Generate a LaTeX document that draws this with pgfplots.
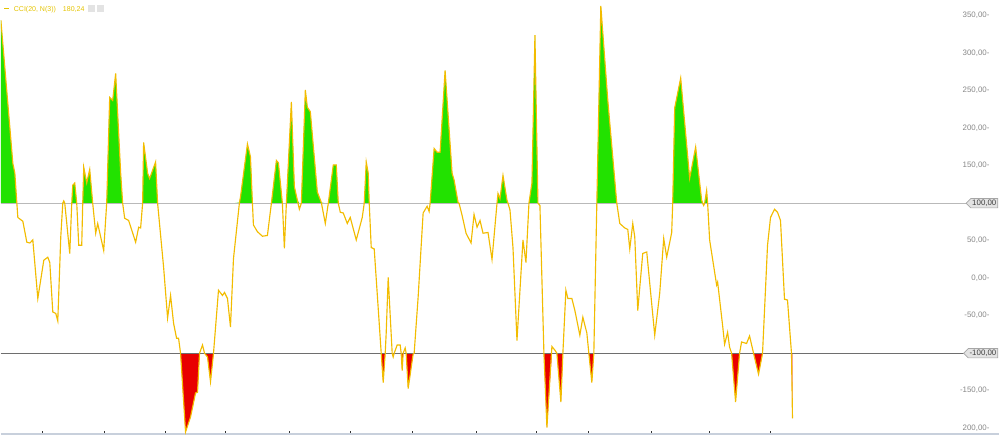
\documentclass[border=0pt]{standalone}
\usepackage{fontspec}
\setmainfont{Liberation Sans}
\usepackage{pgfplots}
\usepackage{pgfplotstable}
\pgfplotsset{compat=1.18}
\usetikzlibrary{shapes.symbols}
\definecolor{cciline}{RGB}{242,188,0}
\definecolor{ccigreen}{RGB}{34,226,0}
\definecolor{ccired}{RGB}{232,0,0}
\definecolor{axgray}{RGB}{135,135,135}
\definecolor{lightref}{RGB}{185,185,185}
\definecolor{darkref}{RGB}{110,110,110}
\definecolor{bottomline}{RGB}{200,208,220}

\pgfplotstableread{
x y
0 344
12 153
14 140
16 100
17 81
22 76
26 48
29 47
32 51
37 -27
43 24
47 28
49 21
52 -45
55 -47
57 -57
60 55
62 100
63 103
64 100
69 33
71 100
72 124
74 127
76 100
78 44
81 44
82 100
83 148
86 127
89 145
92 100
95 60
97 73
103 37
106 100
109 241
112 237
115 273
120 140
122 100
124 80
128 77
135 48
138 68
140 67
142 100
143 181
147 140
149 133
155 155
157 100
163 15
167 -53
170 -23
173 -60
176 -80
178 -80
180 -100
185 -205
190 -185
195 -153
197 -152
199 -100
202 -89
204 -100
207 -105
210 -138
213 -100
218 -16
222 -23
224 -19
227 -27
230 -65
233 26
239 101
240 108
247 179
250 162
252 100
253 71
257 62
262 56
267 57
271 100
276 157
278 154
282 100
284 40
286 100
291 235
294 122
297 104
299 92
301 100
305 251
307 228
310 222
317 115
321 101
325 73
328 100
333 151
336 151
338 100
340 88
343 87
347 73
350 81
356 51
362 81
364 100
366 155
368 140
369 100
371 41
374 39
379 -60
381 -100
383 -139
385 -100
386 -73
388 1
392 -100
393 -105
394 -100
397 -89
400 -89
401 -100
402 -123
403 -100
405 -93
406 -100
408 -147
413 -101
414 -100
418 -25
423 87
427 96
429 89
430 100
434 173
437 168
440 168
445 277
452 140
454 131
458 101
459 100
462 84
466 60
471 47
474 85
477 68
480 77
483 60
488 61
492 25
497 100
498 113
500 106
503 137
507 104
508 100
510 91
513 41
517 -83
523 51
526 21
529 100
532 127
535 324
538 100
540 97
544 -100
547 -199
552 -91
555 -96
557 -100
561 -165
563 -100
566 -16
568 -27
572 -27
575 -43
580 -76
583 -52
587 -73
589 -100
592 -139
594 -100
597 100
601 363
608 237
617 100
620 73
625 67
628 65
630 39
633 73
635 55
638 -43
643 33
647 35
655 -76
660 -20
664 53
667 28
672 61
673 100
675 227
681 267
690 133
696 175
702 104
703 100
704 97
705 100
707 117
708 100
710 51
717 -9
718 -5
723 -63
725 -88
728 -72
730 -92
732 -100
736 -165
740 -100
742 -85
747 -87
750 -77
754 -100
759 -128
763 -100
768 44
771 81
775 92
778 88
781 77
785 -28
788 -29
792 -100
793 -187
}\ccidata

\begin{document}
\begin{tikzpicture}
\begin{axis}[
  width=20cm, height=8.7cm, scale only axis,
  xmin=0, xmax=1000, ymin=-208, ymax=371,
  axis x line*=bottom,
  axis y line*=right,
  x axis line style={draw=bottomline, line width=1pt},
  y axis line style={draw=none},
  xtick={42,104,165,225,289,350,412,476,537,589,652,710,771},
  xticklabels={},
  tick align=inside,
  major tick length=2pt,
  x tick style={black!80, line width=0.5pt},
  ytick={-200,-150,-50,0,50,150,200,250,300,350},
  yticklabels={{200,00-},{-150,00-},{-50,00-},{0,00-},{50,00-},{150,00-},{200,00-},{250,00-},{300,00-},{350,00-}},
  y tick style={draw=none},
  yticklabel pos=right,
  yticklabel style={anchor=east, xshift=-2pt, font=\fontsize{4.5}{5}\selectfont, text=axgray},
]
\addplot[fill=ccigreen, draw=none] table[x=x, y expr={max(\thisrow{y},100)}]{\ccidata}
  -- (axis cs:793,100) -- (axis cs:0,100) -- cycle;
\addplot[fill=ccired, draw=none] table[x=x, y expr={min(\thisrow{y},-100)}]{\ccidata}
  -- (axis cs:793,-100) -- (axis cs:0,-100) -- cycle;
\addplot[draw=lightref, line width=0.6pt] coordinates {(0,100) (973,100)};
\addplot[draw=darkref, line width=0.6pt] coordinates {(0,-100) (973,-100)};
\addplot[cciline, line width=0.65pt] table[x=x,y=y]{\ccidata};

\node[signal, signal to=west, draw=gray!70, fill=gray!22, inner sep=0.8pt,
  font=\fontsize{4.5}{5}\selectfont, text=black!75, anchor=east] at (axis cs:999,100) {100,00};
\node[signal, signal to=west, draw=gray!70, fill=gray!22, inner sep=0.8pt,
  font=\fontsize{4.5}{5}\selectfont, text=black!75, anchor=east] at (axis cs:999,-100) {-100,00};

\node[anchor=west, inner sep=0pt, font=\fontsize{4}{5}\selectfont, text={rgb,255:red,228;green,195;blue,0}]
  at (axis cs:3,359) {\rule[0.55ex]{3pt}{0.8pt}\hspace{2.5pt}CCI(20, N(3))\hspace{4pt}180,24\hspace{2pt}\textcolor{gray!22}{\rule[-0.3ex]{4pt}{4pt}}\hspace{1pt}\textcolor{gray!22}{\rule[-0.3ex]{4pt}{4pt}}};
\end{axis}
\end{tikzpicture}
\end{document}
